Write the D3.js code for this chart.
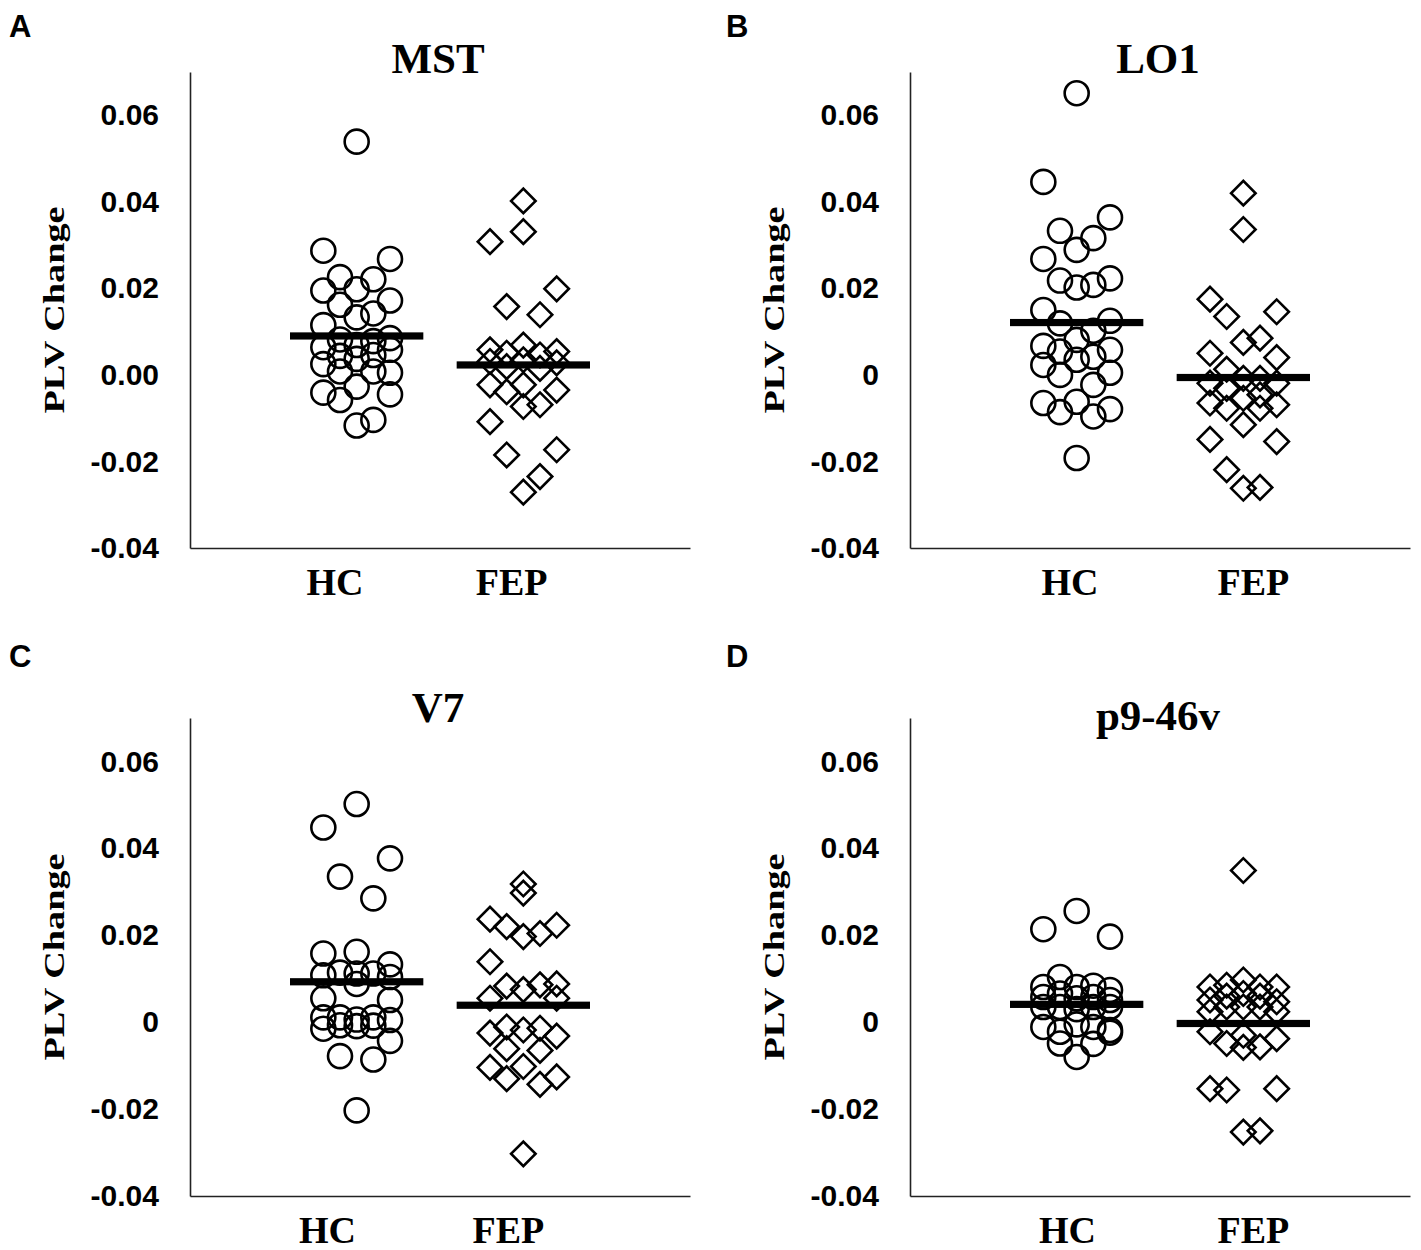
<!DOCTYPE html>
<html>
<head>
<meta charset="utf-8">
<script src="https://cdn.jsdelivr.net/npm/d3@7"></script>
<style>
  body { margin: 0; background: #fff; }
  svg { display: block; }
</style>
</head>
<body>
<svg id="chart" width="1421" height="1250"></svg>
<script>
// values: [PLV change, jitter lane]
const groups = ['HC', 'FEP'];
const yTicks = [0.06, 0.04, 0.02, 0, -0.02, -0.04];
const tickLabelsMST = ['0.06', '0.04', '0.02', '0.00', '-0.02', '-0.04'];
const tickLabels = ['0.06', '0.04', '0.02', '0', '-0.02', '-0.04'];

const mstHC = [[0.0539,0],[0.0287,-2],[0.0268,2],[0.0226,-1],[0.0221,1],[0.0195,-2],[0.0198,0],
  [0.0172,2],[0.0162,-1],[0.0142,1],[0.0133,0],[0.0115,-2],[0.0085,2],[0.0082,-1],[0.0078,1],
  [0.0064,-2],[0.0069,0],[0.0058,2],[0.0044,-1],[0.0046,1],[0.0025,-2],[0.0037,0],[0.0008,-1],
  [0.0008,1],[0.0005,2],[-0.0027,0],[-0.0041,-2],[-0.0045,2],[-0.0058,-1],[-0.0104,1],[-0.0117,0]];
const mstFEP = [[0.0402,0],[0.0331,0],[0.0308,-2],[0.0199,2],[0.0158,-1],[0.0139,1],[0.0058,-2],
  [0.0069,0],[0.0054,2],[0.005,-1],[0.0046,1],[0.0031,-2],[0.0035,0],[0.0028,2],[0.0019,-1],
  [0.0015,1],[-0.0023,-2],[-0.0023,0],[-0.0035,2],[-0.0039,-1],[-0.0069,1],[-0.0073,0],
  [-0.0108,-2],[-0.0173,2],[-0.0185,-1],[-0.0235,1],[-0.0271,0]];
const mstMeans = [0.0090, 0.0023];

const lo1HC = [[0.0651,0],[0.0446,-2],[0.0364,2],[0.0333,-1],[0.0316,1],[0.0289,0],[0.0268,-2],
  [0.0223,2],[0.0218,-1],[0.0208,1],[0.0202,0],[0.0150,-2],[0.0119,-1],[0.0125,2],[0.0102,1],
  [0.0081,0],[0.0067,-2],[0.0058,2],[0.0054,-1],[0.0042,1],[0.0035,0],[0.0023,-2],[0.0005,2],
  [0.0,-1],[-0.0023,1],[-0.0065,-2],[-0.0062,0],[-0.0086,-1],[-0.0079,2],[-0.0096,1],[-0.0192,0]];
const lo1FEP = [[0.0420,0],[0.0336,0],[0.0175,-2],[0.0135,-1],[0.0146,2],[0.0085,1],[0.0075,0],
  [0.0050,-2],[0.0040,2],[0.0013,-1],[-0.0008,0],[-0.0008,1],[-0.0019,-2],[-0.0019,2],
  [-0.0031,-1],[-0.0046,1],[-0.0054,0],[-0.0065,-2],[-0.0069,2],[-0.0077,-1],[-0.0077,1],
  [-0.0115,0],[-0.0149,-2],[-0.0154,2],[-0.0219,-1],[-0.0262,0],[-0.0260,1]];
const lo1Means = [0.0121, -0.0006];

const v7HC = [[0.0502,0],[0.0448,-2],[0.0377,2],[0.0335,-1],[0.0285,1],[0.0158,-2],[0.0162,0],
  [0.0133,2],[0.0108,-2],[0.0114,-1],[0.0112,0],[0.0112,1],[0.0104,2],[0.0088,0],[0.0055,-2],
  [0.0051,2],[0.0011,-2],[0.0011,-1],[0.0006,0],[0.0011,1],[0.0005,2],[-0.0015,-2],[-0.0007,-1],
  [-0.0009,0],[-0.0008,1],[-0.0043,2],[-0.0078,-1],[-0.0086,1],[-0.0203,0]];
const v7FEP = [[0.0318,0],[0.0297,0],[0.0237,-2],[0.0220,-1],[0.0223,2],[0.0204,1],[0.0197,0],
  [0.0139,-2],[0.0083,-1],[0.0088,2],[0.0086,1],[0.0075,0],[0.0055,-2],[0.0055,2],[-0.0011,-1],
  [-0.0025,-2],[-0.0018,0],[-0.0014,1],[-0.0032,2],[-0.0061,-1],[-0.0065,1],[-0.0104,-2],
  [-0.0102,0],[-0.0126,2],[-0.0130,-1],[-0.0143,1],[-0.0303,0]];
const v7Means = [0.0093, 0.0039];

const p946vHC = [[0.0256,0],[0.0214,-2],[0.0197,2],[0.0104,-1],[0.0081,-2],[0.0081,0],[0.0084,1],
  [0.0074,2],[0.0066,-1],[0.0058,-2],[0.0055,0],[0.0058,1],[0.0051,2],[0.0035,-2],[0.0035,-1],
  [0.0030,0],[0.0035,1],[0.0035,2],[-0.0011,-2],[-0.0022,-1],[-0.0005,0],[-0.0011,1],
  [-0.0018,2],[-0.0024,2],[-0.0049,-1],[-0.0050,1],[-0.0080,0]];
const p946vFEP = [[0.0349,0],[0.0097,0],[0.0085,-1],[0.0081,-2],[0.0081,1],[0.0081,2],[0.0066,0],
  [0.0060,-1],[0.0051,-2],[0.0060,1],[0.0047,2],[0.0035,0],[0.0035,-1],[0.0035,1],[0.0024,-2],
  [0.0024,2],[-0.0022,-2],[-0.0030,0],[-0.0038,2],[-0.0049,-1],[-0.0057,1],[-0.0058,0],
  [-0.0153,-2],[-0.0156,-1],[-0.0153,2],[-0.0253,0],[-0.0250,1]];
const p946vMeans = [0.0041, -0.0003];

const panels = [
  { letter: 'A', title: 'MST', hc: mstHC, fep: mstFEP, means: mstMeans, labels: tickLabelsMST },
  { letter: 'B', title: 'LO1', hc: lo1HC, fep: lo1FEP, means: lo1Means, labels: tickLabels },
  { letter: 'C', title: 'V7', hc: v7HC, fep: v7FEP, means: v7Means, labels: tickLabels },
  { letter: 'D', title: 'p9-46v', hc: p946vHC, fep: p946vFEP, means: p946vMeans, labels: tickLabels }
];

// layout of each panel (pixels) and where the category labels sit (x units)
const layout = [
  { left: 190, top: 72, bottom: 548, letterX: 9, letterY: 37, titleY: 73, catX: [8.7, 19.3] },
  { left: 910, top: 72, bottom: 548, letterX: 726, letterY: 37, titleY: 73, catX: [9.6, 20.6] },
  { left: 190, top: 718, bottom: 1196, letterX: 9, letterY: 667, titleY: 722, catX: [8.25, 19.1] },
  { left: 910, top: 718, bottom: 1196, letterX: 726, letterY: 667, titleY: 730, catX: [9.45, 20.6] }
];

const svg = d3.select('#chart');
const sans = '"Liberation Sans", Arial, sans-serif';
const serif = '"Liberation Serif", "Times New Roman", serif';
const groupCenter = [10, 20];

panels.forEach(function (p, i) {
  const L = layout[i];
  const g = svg.append('g');

  const y = d3.scaleLinear().domain([-0.04, 0.07]).range([L.bottom, L.top]);
  const x = d3.scaleLinear().domain([0, 30]).range([L.left, L.left + 500]);

  // y axis
  const yAxis = g.append('g')
    .attr('transform', 'translate(' + L.left + ',0)')
    .call(d3.axisLeft(y).tickValues(yTicks).tickSize(0).tickPadding(31)
      .tickFormat(function (d, k) { return p.labels[k]; }));
  yAxis.select('.domain').attr('stroke', '#222').attr('stroke-width', 1.6);
  yAxis.selectAll('text')
    .attr('font-family', sans).attr('font-weight', 'bold')
    .attr('font-size', 30).attr('fill', '#000');

  // x axis (line only)
  const xAxis = g.append('g')
    .attr('transform', 'translate(0,' + L.bottom + ')')
    .call(d3.axisBottom(x).tickValues([]).tickSizeOuter(0));
  xAxis.select('.domain').attr('stroke', '#222').attr('stroke-width', 1.6);

  // category labels
  g.selectAll('.cat').data(groups).enter().append('text')
    .attr('x', function (d, k) { return x(L.catX[k]); })
    .attr('y', L.bottom + 47)
    .attr('text-anchor', 'middle')
    .attr('font-family', serif).attr('font-weight', 'bold').attr('font-size', 38)
    .text(function (d) { return d; });

  // y label
  const cy = (L.top + L.bottom) / 2;
  g.append('text')
    .attr('transform', 'translate(' + (L.left - 126) + ',' + cy + ') rotate(-90)')
    .attr('text-anchor', 'middle')
    .attr('font-family', serif).attr('font-weight', 'bold').attr('font-size', 29)
    .attr('textLength', 207).attr('lengthAdjust', 'spacingAndGlyphs')
    .text('PLV Change');

  // title and panel letter
  g.append('text')
    .attr('x', L.left + 248).attr('y', L.titleY)
    .attr('text-anchor', 'middle')
    .attr('font-family', serif).attr('font-weight', 'bold').attr('font-size', 43)
    .text(p.title);
  g.append('text')
    .attr('x', L.letterX).attr('y', L.letterY)
    .attr('font-family', sans).attr('font-weight', 'bold').attr('font-size', 31)
    .text(p.letter);

  // HC circles
  g.selectAll('.hc').data(p.hc).enter().append('circle')
    .attr('cx', function (d) { return x(groupCenter[0] + d[1]); })
    .attr('cy', function (d) { return y(d[0]); })
    .attr('r', 12)
    .attr('fill', 'none').attr('stroke', '#000').attr('stroke-width', 2.6);

  // FEP diamonds
  const diamond = d3.symbol().type(d3.symbolSquare).size(300);
  g.selectAll('.fep').data(p.fep).enter().append('path')
    .attr('d', diamond)
    .attr('transform', function (d) {
      return 'translate(' + x(groupCenter[1] + d[1]) + ',' + y(d[0]) + ') rotate(45)';
    })
    .attr('fill', 'none').attr('stroke', '#000').attr('stroke-width', 2.6);

  // group means
  g.selectAll('.mean').data(p.means).enter().append('rect')
    .attr('x', function (d, k) { return x(groupCenter[k] - 4); })
    .attr('y', function (d) { return y(d) - 3.6; })
    .attr('width', x(8) - x(0))
    .attr('height', 7.2)
    .attr('fill', '#000');
});
</script>
</body>
</html>
